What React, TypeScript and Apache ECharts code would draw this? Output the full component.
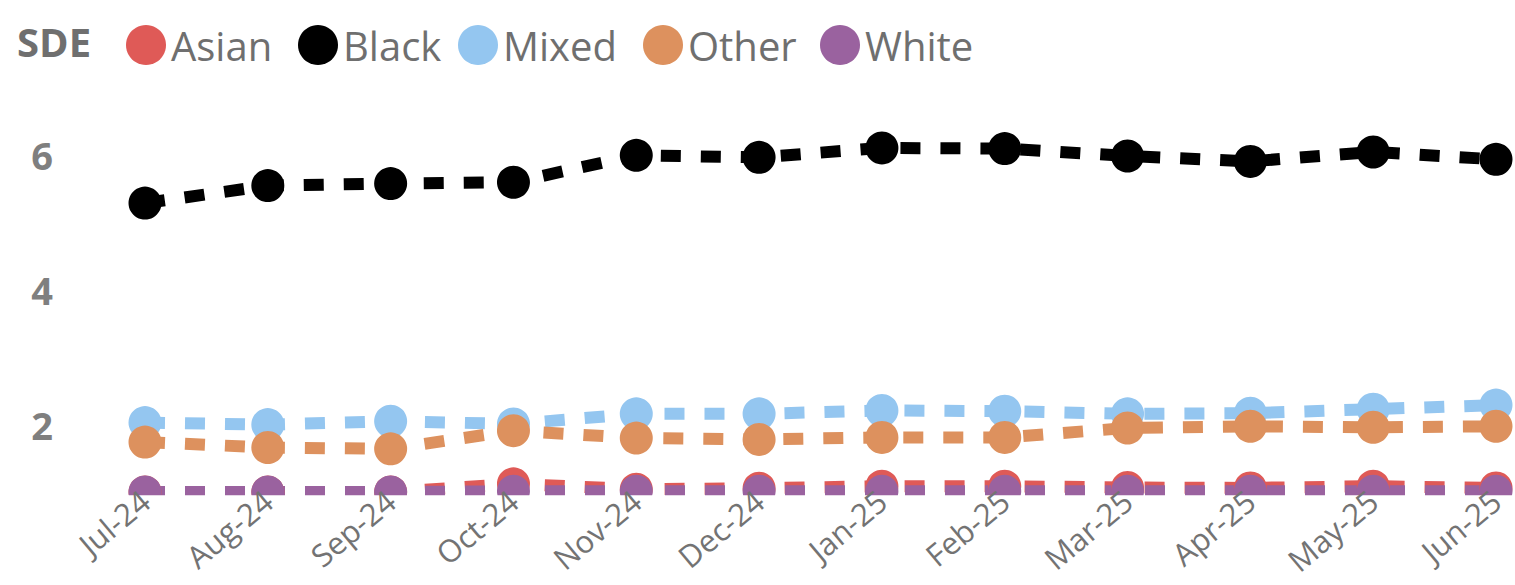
import React, { useEffect, useRef } from "react";
import * as echarts from "echarts";

const months = ["Jul-24", "Aug-24", "Sep-24", "Oct-24", "Nov-24", "Dec-24", "Jan-25", "Feb-25", "Mar-25", "Apr-25", "May-25", "Jun-25"];
const asian = [1.0, 1.0, 1.0, 1.12, 1.04, 1.055, 1.085, 1.085, 1.065, 1.06, 1.085, 1.06];
const black = [5.29, 5.55, 5.58, 5.6, 6.0, 5.97, 6.11, 6.1, 5.99, 5.91, 6.05, 5.94];
const mixed = [2.03, 2.0, 2.05, 2.01, 2.16, 2.16, 2.21, 2.2, 2.16, 2.17, 2.23, 2.29];
const other = [1.74, 1.66, 1.64, 1.91, 1.8, 1.78, 1.81, 1.81, 1.95, 1.975, 1.96, 1.975];
const white = [1.0, 1.0, 1.0, 1.01, 1.01, 1.01, 1.01, 1.01, 1.01, 1.01, 1.01, 1.01];
const yTickLabels = [2, 4, 6];

const seriesDefs = [
  { name: "Asian", data: asian, color: "#DF5A57" },
  { name: "Black", data: black, color: "#000000" },
  { name: "Mixed", data: mixed, color: "#94C6F0" },
  { name: "Other", data: other, color: "#DD915E" },
  { name: "White", data: white, color: "#9A629F" },
];
const legendLefts = [121, 293, 453, 638, 815];

const FONT = "'Segoe UI', 'Open Sans', 'Noto Sans', sans-serif";

export default function App() {
  const ref = useRef<HTMLDivElement>(null);
  useEffect(() => {
    if (!ref.current) return;
    const chart = echarts.init(ref.current, null, { renderer: "svg" });
    const gridTop = 88;
    const gridBottom = 89.7;
    chart.setOption({
      animation: false,
      backgroundColor: "#ffffff",
      title: {
        text: "SDE",
        left: 12,
        top: 16,
        textStyle: { fontFamily: FONT, fontSize: 40, fontWeight: "bold", color: "#6f6f6f" },
      },
      legend: seriesDefs.map((s, i) => ({
        left: legendLefts[i],
        top: 20,
        icon: "circle",
        itemWidth: 40,
        itemHeight: 40,
        textStyle: { fontFamily: FONT, fontSize: 40, color: "#6f6f6f", padding: [0, 0, 0, 0] },
        data: [s.name],
      })),
      grid: { left: 145, right: 19, top: gridTop, bottom: gridBottom, containLabel: false },
      xAxis: {
        type: "category",
        data: months,
        boundaryGap: false,
        z: 10,
        axisLine: { show: false },
        axisTick: { show: false },
        axisLabel: {
          rotate: 40,
          margin: 1,
          fontFamily: FONT,
          fontSize: 31,
          color: "#737373",
        },
      },
      yAxis: {
        type: "value",
        min: 0.95,
        max: 7,
        splitLine: { show: false },
        axisLine: { show: false },
        axisTick: { show: false },
        axisLabel: {
          customValues: yTickLabels,
          margin: 92,
          fontFamily: FONT,
          fontSize: 38,
          fontWeight: "bold",
          color: "#7f7f7f",
        },
      },
      graphic: [
        {
          type: "rect",
          z: 5,
          silent: true,
          shape: { x: 100, y: 585 - gridBottom, width: 1415, height: 20 },
          style: { fill: "#ffffff" },
        },
      ],
      series: seriesDefs.map((s) => ({
        name: s.name,
        type: "line",
        data: s.data,
        symbol: "circle",
        symbolSize: 33,
        showSymbol: true,
        itemStyle: { color: s.color },
        lineStyle: { color: s.color, width: 12, type: [20, 20], cap: "butt" },
        emphasis: { disabled: true },
      })),
    });
    return () => chart.dispose();
  }, []);
  return (
    <div
      ref={ref}
      style={{ position: "fixed", left: 0, top: 0, width: 1515, height: 585, overflow: "hidden" }}
    />
  );
}
